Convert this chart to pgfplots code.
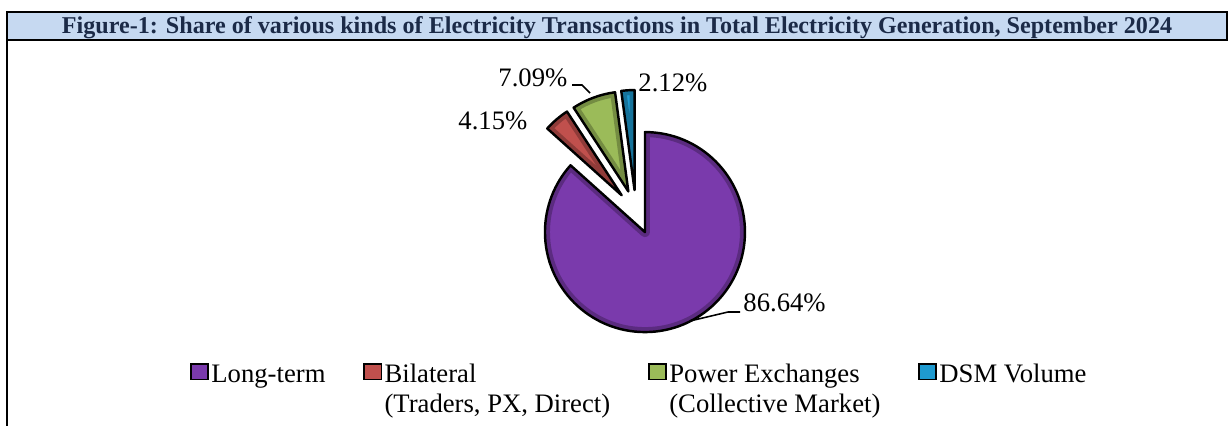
\documentclass[border=0pt]{standalone}
\usepackage{fontspec}
\setmainfont{Liberation Serif}
\usepackage{pgfplots}
\usepackage{pgfplotstable}
\pgfplotsset{compat=1.18}
\definecolor{titlebg}{HTML}{C6D9F1}
\definecolor{titleink}{HTML}{1B2A47}
\definecolor{ltcol}{HTML}{7A3AAC}
\definecolor{bicol}{HTML}{C0504D}
\definecolor{pxcol}{HTML}{9BBB59}
\definecolor{dsmcol}{HTML}{1E9AD0}

% shares of total generation, per cent (clockwise from 12 o'clock)
\pgfplotstableread{
share
86.64
4.15
7.09
2.12
}\piedata

% wedge #1, exploded 22px along its bisector, with a dark bevel rim
\newcommand\pieslice[2]{%
  \pgfmathsetmacro\sa{\csname sa#1\endcsname}%
  \pgfmathsetmacro\ea{\csname ea#1\endcsname}%
  \pgfmathsetmacro\ma{(\sa+\ea)/2}%
  \edef\wedge{([shift={(\ma:9.9pt)}]axis cs:636,212) -- ++(\sa:45pt)
    arc[start angle=\sa, end angle=\ea, radius=45pt] -- cycle}%
  \edef\tmp{\noexpand\filldraw[fill=#2, draw=black, line width=1.1pt, line join=round,
    path picture={\noexpand\draw[black, opacity=0.25, line width=4.5pt, line join=round] \wedge;}]
    \wedge;}%
  \tmp}
\newcommand\twoline[2]{\begin{tabular}[t]{@{}l@{}}#1\\#2\end{tabular}}

\begin{document}
\begin{tikzpicture}
% start/end angles from the shares
\gdef\cum{0}
\foreach \i in {0,...,3}{
  \pgfplotstablegetelem{\i}{share}\of\piedata
  \pgfmathsetmacro\s{90-3.6*\cum}
  \pgfmathsetmacro\newcum{\cum+\pgfplotsretval}
  \pgfmathsetmacro\e{90-3.6*\newcum}
  \expandafter\xdef\csname sa\i\endcsname{\s}
  \expandafter\xdef\csname ea\i\endcsname{\e}
  \xdef\cum{\newcum}
}
\begin{axis}[
  x=0.45pt, y=0.45pt,
  xmin=0, xmax=1231, ymin=0, ymax=426,
  y dir=reverse,
  hide axis, clip=false,
  legend columns=4,
  legend cell align=left,
  legend style={draw=none, fill=none, at={(axis cs:183,352)}, anchor=north west,
    font=\fontsize{12}{13.5}\selectfont,
    nodes={inner xsep=1pt},
    /tikz/every even column/.append style={column sep=16pt}},
  legend image code/.code={\draw[#1, line width=0.8pt] (0pt,-2.7pt) rectangle (7.8pt,4.3pt);},
]
\coordinate (bbSW) at (axis cs:0,426);
\coordinate (bbNE) at (axis cs:1231,0);

% title bar and frame
\draw[fill=titlebg, line width=1pt] (axis cs:7,12) rectangle (axis cs:1227,40);
\node[anchor=base, text=titleink, font=\fontsize{10.85}{12}\bfseries]
  at (axis cs:617,34) {Figure-1: Share of various kinds of Electricity Transactions in Total Electricity Generation, September 2024};
\draw[line width=1.2pt] (axis cs:7,40) -- (axis cs:7,426);

% slices
\pieslice{0}{ltcol}
\pieslice{1}{bicol}
\pieslice{2}{pxcol}
\pieslice{3}{dsmcol}

% data labels
\draw[line width=0.7pt] (axis cs:690,321) -- (axis cs:728,312) -- (axis cs:740,312);
\draw[line width=0.7pt] (axis cs:572,85) -- (axis cs:582,85) -- (axis cs:590,93);
\node[anchor=base west, inner sep=0pt, font=\fontsize{12}{14}\selectfont] at (axis cs:743,312) {86.64\%};
\node[anchor=base west, inner sep=0pt, font=\fontsize{12}{14}\selectfont] at (axis cs:458,130) {4.15\%};
\node[anchor=base west, inner sep=0pt, font=\fontsize{12}{14}\selectfont] at (axis cs:498,87) {7.09\%};
\node[anchor=base west, inner sep=0pt, font=\fontsize{12}{14}\selectfont] at (axis cs:638,92) {2.12\%};

\addlegendimage{fill=ltcol, draw=black}
\addlegendentry{\twoline{Long-term}{}}
\addlegendimage{fill=bicol, draw=black}
\addlegendentry{\twoline{Bilateral}{(Traders, PX, Direct)}}
\addlegendimage{fill=pxcol, draw=black}
\addlegendentry{\twoline{Power Exchanges}{(Collective Market)}}
\addlegendimage{fill=dsmcol, draw=black}
\addlegendentry{\twoline{DSM Volume}{}}
\end{axis}
\pgfresetboundingbox
\path[use as bounding box] (bbSW) rectangle (bbNE);
\end{tikzpicture}
\end{document}
